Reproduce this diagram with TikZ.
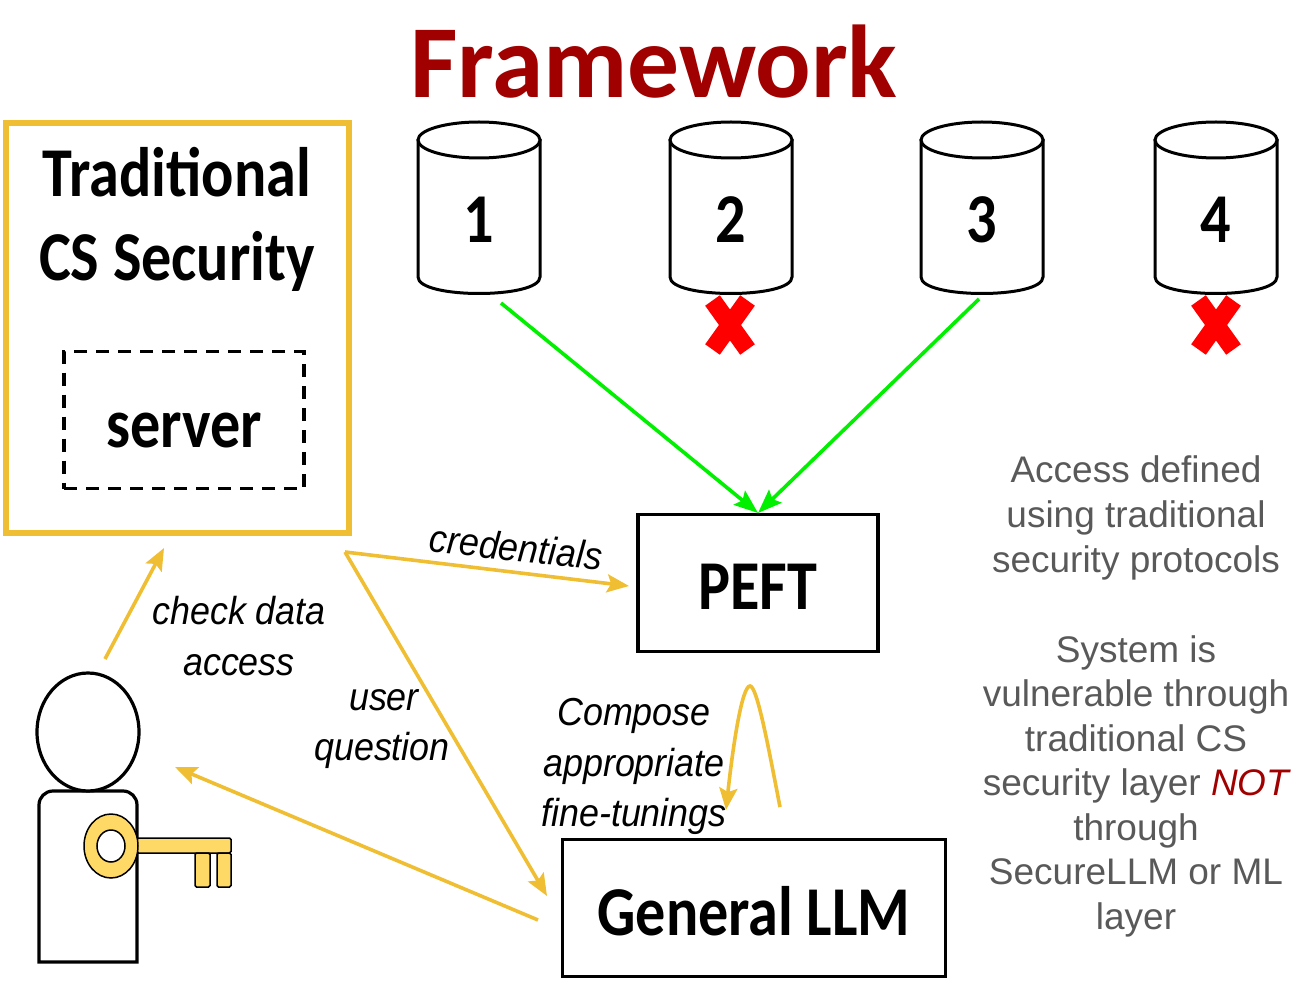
\documentclass[tikz,border=0pt]{standalone}
\usepackage{fontspec}
\setmainfont{Carlito}
\newfontfamily\arialf{Liberation Sans}
\usetikzlibrary{arrows.meta,shapes.geometric}
\definecolor{gold}{RGB}{240,190,50}
\definecolor{keyy}{RGB}{255,217,102}
\definecolor{darkred}{RGB}{160,0,0}
\definecolor{grn}{RGB}{0,240,0}
\definecolor{gtxt}{RGB}{89,89,89}
\tikzset{
 x=1pt,y=-1pt,
 bt/.style={font=\bfseries\fontsize{70}{70}\selectfont,inner sep=0pt,transform shape,xscale=.86},
 lab/.style={font=\arialf\itshape\fontsize{39}{39}\selectfont,inner sep=0pt,transform shape,xscale=.92},
 side/.style={font=\arialf\fontsize{37}{45}\selectfont,text=gtxt,align=center,inner sep=0pt},
 ga/.style={draw=gold,line width=3.6pt,-{Stealth[length=22pt,width=18pt,inset=4pt]}},
 gra/.style={draw=grn,line width=3.6pt,-{Stealth[length=24pt,width=18pt,inset=4pt]}},
 cyl/.style={draw=black,line width=3pt,fill=white},
 xm/.style={draw=red,line width=18pt},
 keyp/.style={draw=black,line width=1.5pt,fill=keyy,rounded corners=1.5pt},
}
\newcommand{\cylinder}[3]{%
 \draw[cyl] (#1-61,139) -- (#1-61,277) .. controls (#1-61,299) and (#1+61,299) .. (#1+61,277) -- (#1+61,139);
 \draw[cyl] (#1,140) ellipse [x radius=61,y radius=18];
 \node[bt] (#3) at (#1,220) {#2};
}
\begin{document}
\begin{tikzpicture}
\useasboundingbox (0,0) rectangle (1311,981);
\node[font=\bfseries\fontsize{103.5}{103.5}\selectfont,text=darkred,inner sep=0pt] (title) at (654,62) {Framework};
\node[draw=gold,line width=6pt,minimum width=343pt,minimum height=410pt,inner sep=0pt] (cs) at (177,328) {};
\node[bt] (t1) at (177,172) {Traditional};
\node[bt] (t2) at (177,261) {CS Security};
\node[draw=black,dash pattern=on 13pt off 9pt,line width=3.2pt,minimum width=240pt,minimum height=137pt,inner sep=0pt] (srv) at (184,420) {};
\node[bt] (srvt) at (184,430) {server};
\cylinder{479}{1}{d1}
\cylinder{731}{2}{d2}
\cylinder{982}{3}{d3}
\cylinder{1216}{4}{d4}
\draw[xm] (712.5,300.5) -- (747.5,349.5) (747.5,300.5) -- (712.5,349.5);
\draw[xm] (1198.5,300.5) -- (1233.5,349.5) (1233.5,300.5) -- (1198.5,349.5);
\node[draw=black,line width=3.2pt,minimum width=240pt,minimum height=137pt,inner sep=0pt] (peft) at (758,583) {};
\node[bt] at (758,587) {PEFT};
\node[draw=black,line width=3.2pt,minimum width=383pt,minimum height=137pt,inner sep=0pt] (llm) at (754,908) {};
\node[bt] at (754,911) {General LLM};
\coordinate (a1) at (501,303);
\coordinate (a3) at (979,299);
\coordinate (pt) at (758,513);
\draw[gra] (a1) -- (pt);
\draw[gra] (a3) -- (pt);
\coordinate (u0) at (345,552);
\coordinate (u1) at (629,586);
\coordinate (u2) at (547,896);
\draw[ga] (u0) -- (u1);
\draw[ga] (u0) -- (u2);
\coordinate (k0) at (105,659);
\coordinate (k1) at (164,548);
\draw[ga] (k0) -- (k1);
\coordinate (r0) at (538,920);
\coordinate (r1) at (175,767);
\draw[ga] (r0) -- (r1);
\coordinate (c0) at (780,807);
\coordinate (c1) at (726,810);
\draw[ga] (c0) .. controls (768,745) and (757,686) .. (750,686) .. controls (742,686) and (733,745) .. (c1);
\node[lab,rotate=-5.5] at (516,547) {credentials};
\node[lab] at (239,611) {check data};
\node[lab] at (239,665) {access};
\node[lab] at (384,700) {user};
\node[lab] at (382,750) {question};
\node[lab] at (634,716) {Compose};
\node[lab] at (634,766) {appropriate};
\node[lab] at (634,816) {fine-tunings};
% person
\draw[line width=3.2pt,fill=white,rounded corners=0pt] (39,962) -- (39,812) [rounded corners=14pt] -- (39,791) -- (137,791) [rounded corners=0pt] -- (137,962) -- cycle;
\draw[line width=3.2pt,fill=white] (88,732) ellipse [x radius=51,y radius=59];
% key
\draw[keyp] (137,838) rectangle (231,853);
\draw[keyp] (195,853) rectangle (210,887);
\draw[keyp] (217,853) rectangle (231,887);
\draw[draw=black,line width=1.5pt,fill=keyy] (111,846) ellipse [x radius=27,y radius=32];
\draw[draw=black,line width=1.5pt,fill=white] (111,846) ellipse [x radius=14,y radius=16];
\node[side] at (1136,518) {Access defined\\using traditional\\security protocols};
\node[side,font=\arialf\fontsize{37}{44.5}\selectfont] at (1136,786) {System is\\vulnerable through\\traditional CS\\security layer {\itshape\color{darkred}NOT}\\through\\SecureLLM or ML\\layer};
\end{tikzpicture}
\end{document}
